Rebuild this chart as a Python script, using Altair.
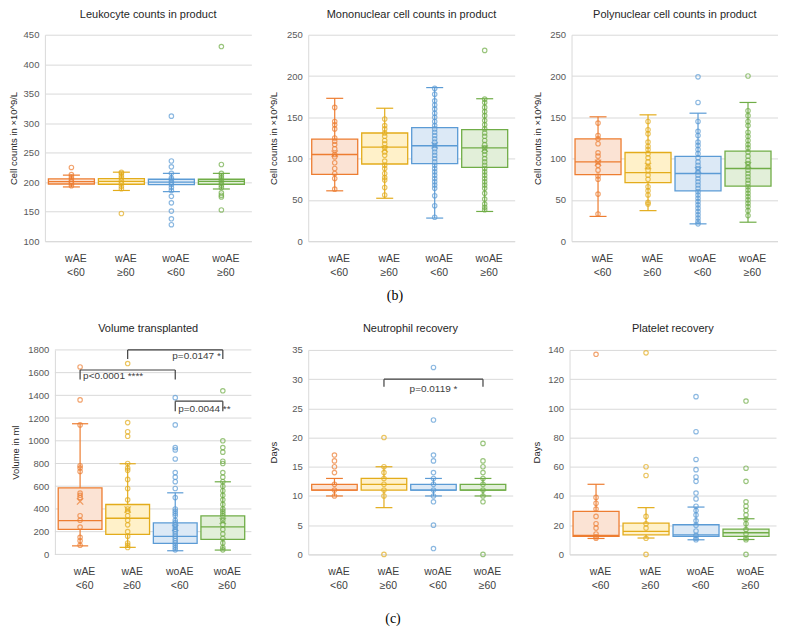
import altair as alt
import pandas as pd

FONT = "Liberation Sans"
GROUPS = ["wAE|<60", "wAE|≥60", "woAE|<60", "woAE|≥60"]
IDX = [0, 1, 2, 3]
STROKES = ["#ED7D31", "#E3AC1B", "#5B9BD5", "#70AD47"]
FILLS = ["#FBE3D4", "#FFF1C9", "#DCE9F6", "#E2EFD9"]

# ---- Leukocyte counts ----
LEU_Q1 = [197, 196.5, 196, 196.5]
LEU_MED = [201, 201.5, 200, 201.5]
LEU_Q3 = [205.5, 206, 205, 205]
LEU_LO = [192, 186, 184, 188.5]
LEU_HI = [212, 217, 215, 215]
LEU_MEAN = []
LEU_PTS = [
    [225, 213, 209, 205, 201, 198, 194],
    [217, 215, 211, 207, 202, 198, 193, 189, 147],
    [312, 236, 226, 215, 207, 204, 200, 196, 191, 186, 176, 165, 151, 138, 128],
    [430, 230, 215, 211, 207, 203, 199, 195, 191, 182, 178, 175, 153],
]

# ---- Mononuclear ----
MONO_Q1 = [81, 93.5, 94, 89.5]
MONO_MED = [105, 114, 115.6, 113]
MONO_Q3 = [123.6, 131, 137.6, 135]
MONO_LO = [61, 52, 28, 36]
MONO_HI = [173, 161, 186, 172.5]
MONO_MEAN = [106, 111.5, 116, 112]
MONO_PTS = [
    [162, 145, 141, 136, 125, 121, 117, 112, 105, 102, 95, 88, 82, 76, 63],
    [148, 140, 136, 131, 127, 122, 118, 113, 108, 104, 97, 92, 88, 82, 77, 74, 65, 56],
    [185, 178, 170, 165, 160, 155, 150, 145, 140, 136, 132, 128, 124, 120, 116, 112,
     108, 104, 100, 96, 92, 88, 84, 80, 76, 72, 68, 64, 55, 43, 29],
    [231, 172, 168, 162, 157, 152, 146, 141, 136, 131, 127, 122, 117, 113, 109, 105,
     100, 96, 92, 88, 84, 80, 76, 72, 68, 64, 58, 51, 45, 41, 38],
]

# ---- Polynuclear ----
POLY_Q1 = [80.7, 71, 61, 66.7]
POLY_MED = [96, 83, 82, 88]
POLY_Q3 = [124, 107.4, 102.6, 109]
POLY_LO = [30, 37, 21, 23]
POLY_HI = [150.6, 153, 155, 168]
POLY_MEAN = [95, 91, 86, 92]
POLY_PTS = [
    [143, 128, 124, 118, 107, 103, 96, 92, 86, 79, 75, 57, 33],
    [145, 135, 130, 120, 115, 111, 106, 101, 96, 90, 86, 80, 75, 66, 61, 56, 47, 45],
    [199, 168, 145, 133, 128, 120, 116, 111, 106, 101, 96, 92, 88, 84, 80, 76, 72, 68,
     64, 60, 56, 52, 48, 44, 40, 36, 32, 28, 24, 21],
    [200, 158, 152, 145, 140, 132, 127, 122, 117, 113, 108, 103, 98, 94, 90, 86, 82, 78,
     74, 70, 66, 62, 58, 54, 50, 46, 42, 37, 31],
]

# ---- Volume transplanted ----
VOL_Q1 = [221, 177, 97, 133]
VOL_MED = [298, 318, 159, 242]
VOL_Q3 = [586, 439, 277, 339]
VOL_LO = [75, 62, 32, 38]
VOL_HI = [1150, 798, 542, 639]
VOL_MEAN = [466, 395, 233, 295]
VOL_PTS = [
    [1650, 1360, 1140, 780, 760, 730, 540, 520, 500, 340, 300, 240, 150, 120, 80],
    [1680, 1160, 1080, 1040, 800, 760, 740, 660, 580, 480, 400, 380, 340, 300, 260, 200,
     160, 100, 80, 60],
    [1380, 1140, 940, 920, 840, 720, 680, 640, 580, 500, 400, 380, 360, 340, 300, 280,
     260, 240, 220, 200, 180, 160, 140, 120, 100, 80, 60, 40],
    [1440, 1000, 940, 900, 820, 800, 720, 680, 640, 600, 560, 520, 480, 440, 400, 380,
     360, 340, 300, 260, 220, 180, 140, 100, 60, 40],
]
VOL_BR_X1 = [1, 0, 2]
VOL_BR_X2 = [3, 2, 3]
VOL_BR_TOP = [1800, 1623, 1349]
VOL_BR_LEG = [1720, 1540, 1260]
VOL_TXT = ["p=0.0147 *", "p<0.0001 ****", "p=0.0044 **"]
VOL_TXT_X = [3, 0, 2]
VOL_TXT_Y = [1742, 1572, 1284]
VOL_TXT_ALIGN = ["right", "left", "left"]

# ---- Neutrophil recovery ----
NEU_Q1 = [11, 11, 11, 11]
NEU_MED = [11, 12, 11, 11]
NEU_Q3 = [12, 13, 12, 12]
NEU_LO = [10, 8, 10, 10]
NEU_HI = [13, 15, 13, 13]
NEU_MEAN = []
NEU_PTS = [
    [17, 16, 15, 14, 12, 11, 10],
    [20, 15, 14, 13, 12, 11, 10, 0],
    [32, 23, 17, 16, 14, 13, 12, 11, 10, 9, 5, 1],
    [19, 16, 15, 14, 13, 12, 11, 10, 9, 0],
]
NEU_BR_X1 = [1]
NEU_BR_X2 = [3]
NEU_BR_TOP = [30]
NEU_BR_LEG = [28.7]
NEU_TXT = ["p=0.0119 *"]
NEU_TXT_X = [2]
NEU_TXT_Y = [28.3]
NEU_TXT_ALIGN = ["center"]

# ---- Platelet recovery ----
PLT_Q1 = [12.3, 13.4, 12.3, 12.3]
PLT_MED = [13, 15.7, 13.4, 14.8]
PLT_Q3 = [29.4, 21.4, 20.3, 17.3]
PLT_LO = [10.9, 11.2, 10, 10.2]
PLT_HI = [48, 32, 32.4, 24.4]
PLT_MEAN = []
PLT_PTS = [
    [137, 39, 35, 31, 26, 21, 18, 14, 12, 11],
    [138, 60, 54, 26, 21, 18, 11, 0],
    [108, 84, 65, 58, 53, 50, 42, 38, 33, 30, 27, 23, 20, 16, 13, 11, 10],
    [105, 59, 50, 36, 33, 30, 27, 24, 21, 17, 14, 11, 10, 0],
]

LABEL_EXPR = "split(" + "[" + ",".join("'" + g + "'" for g in GROUPS) + "][datum.value], '|')"
XSHAPE = "M-1,-1L1,1M-1,1L1,-1"
GRID = "#D9D9D9"


def make_panel(title, ytitle, ydom, ystep, q1, med, q3, lo, hi, mean, pts, w, h, ext,
               brackets=None, texts=None, caption=None, inset=0, toff=10):
    unit = (w - inset) / 4.13
    xs = alt.Scale(domain=[-0.53 - inset / unit, 3.6], nice=False, zero=False)
    ys = alt.Scale(domain=ydom, nice=False, zero=False)
    ticks = list(range(ydom[0], ydom[1] + 1, ystep))
    xaxis = alt.Axis(values=IDX, labelExpr=LABEL_EXPR, title=None, grid=False, ticks=False,
                     domain=(inset == 0), domainColor=GRID, labelPadding=12,
                     labelLineHeight=14.4, labelOffset=4,
                     labelFontSize=10.5, labelColor="#404040", labelFont=FONT)
    yargs = dict(values=ticks, title=ytitle, format="d",
                 grid=(inset == 0), gridColor=GRID, domainColor=GRID, ticks=False,
                 labelPadding=6, minExtent=ext, maxExtent=ext, titlePadding=4,
                 labelFontSize=9.5, labelColor="#595959", labelFont=FONT,
                 titleFontSize=9.5, titleFontWeight="normal", titleColor="#262626",
                 titleFont=FONT)
    if inset:
        yargs["offset"] = -inset
    yaxis = alt.Axis(**yargs)

    def X(f):
        return alt.X(f, type="quantitative", scale=xs, axis=xaxis)

    def Y(f):
        return alt.Y(f, type="quantitative", scale=ys, axis=yaxis)

    fill = alt.Fill("g:N", scale=alt.Scale(domain=GROUPS, range=FILLS), legend=None)
    stroke = alt.Stroke("g:N", scale=alt.Scale(domain=GROUPS, range=STROKES), legend=None)

    stats = pd.DataFrame({"i": IDX, "g": GROUPS, "q1": q1, "med": med, "q3": q3,
                          "lo": lo, "hi": hi})
    base = alt.Chart(stats).transform_calculate(
        xl="datum.i - 0.46", xr="datum.i + 0.46", cl="datum.i - 0.17", cr="datum.i + 0.17")

    layers = []
    if inset:
        layers.append(alt.Chart(pd.DataFrame({"v": ticks})).mark_rule(
            color=GRID, strokeWidth=1).encode(
            x=alt.value(inset), x2=alt.value(w), y=Y("v")))

    box = base.mark_rect(strokeWidth=1.3).encode(
        x=X("xl"), x2="xr:Q", y=Y("q1"), y2="q3:Q", fill=fill, stroke=stroke)
    wh_up = base.mark_rule(strokeWidth=1.2).encode(x=X("i"), y=Y("q3"), y2="hi:Q", stroke=stroke)
    wh_dn = base.mark_rule(strokeWidth=1.2).encode(x=X("i"), y=Y("lo"), y2="q1:Q", stroke=stroke)
    cap_up = base.mark_rule(strokeWidth=1.2).encode(x=X("cl"), x2="cr:Q", y=Y("hi"), stroke=stroke)
    cap_dn = base.mark_rule(strokeWidth=1.2).encode(x=X("cl"), x2="cr:Q", y=Y("lo"), stroke=stroke)
    median = base.mark_rule(strokeWidth=1.3).encode(x=X("xl"), x2="xr:Q", y=Y("med"), stroke=stroke)

    rows = []
    for i, vals in enumerate(pts):
        for v in vals:
            rows.append({"i": i, "g": GROUPS[i], "v": v})
    points = alt.Chart(pd.DataFrame(rows)).mark_point(
        shape="circle", filled=False, size=20, strokeWidth=1.15).encode(
        x=X("i"), y=Y("v"), stroke=stroke)

    layers += [box, wh_up, wh_dn, cap_up, cap_dn, median, points]

    if mean:
        mdf = pd.DataFrame({"i": IDX, "g": GROUPS, "m": mean})
        layers.append(alt.Chart(mdf).mark_point(
            shape=XSHAPE, filled=False, size=40, strokeWidth=1.3).encode(
            x=X("i"), y=Y("m"), stroke=stroke))

    if brackets:
        bx1, bx2, btop, bleg = brackets
        bdf = pd.DataFrame({"x1": bx1, "x2": bx2, "top": btop, "leg": bleg})
        bb = alt.Chart(bdf)
        col = "#404040"
        layers.append(bb.mark_rule(color=col, strokeWidth=1.2).encode(
            x=X("x1"), x2="x2:Q", y=Y("top")))
        layers.append(bb.mark_rule(color=col, strokeWidth=1.2).encode(
            x=X("x1"), y=Y("top"), y2="leg:Q"))
        layers.append(bb.mark_rule(color=col, strokeWidth=1.2).encode(
            x=X("x2"), y=Y("top"), y2="leg:Q"))
    if texts:
        tt, tx, ty, ta = texts
        tdf = pd.DataFrame({"t": tt, "x": tx, "y": ty, "a": ta})
        for al, dx in (("left", 3), ("right", -2), ("center", 0)):
            sub = tdf[tdf["a"] == al]
            if len(sub):
                layers.append(alt.Chart(sub).mark_text(
                    align=al, baseline="middle", dx=dx, fontSize=10, font=FONT,
                    color="#404040").encode(x=X("x"), y=Y("y"), text="t:N"))
    if caption:
        ctext, cx, cy = caption
        layers.append(alt.Chart(pd.DataFrame({"t": [ctext]})).mark_text(
            font="Liberation Serif", fontSize=14, color="#000000", baseline="middle").encode(
            x=alt.value(cx), y=alt.value(cy), text="t:N"))

    return alt.layer(*layers).properties(
        width=w, height=h,
        title=alt.TitleParams(title, fontSize=11, font=FONT, fontWeight="normal",
                              color="#262626", offset=toff))


YT = "Cell counts in ×10^9/L"
p1 = make_panel("Leukocyte counts in product", YT, [100, 450], 50, LEU_Q1, LEU_MED, LEU_Q3,
                LEU_LO, LEU_HI, LEU_MEAN, LEU_PTS, 207, 207, 22.5)
p2 = make_panel("Mononuclear cell counts in product", YT, [0, 250], 50, MONO_Q1, MONO_MED,
                MONO_Q3, MONO_LO, MONO_HI, MONO_MEAN, MONO_PTS, 207, 207, 25.5,
                caption=("(b)", 87, 262))
p3 = make_panel("Polynuclear cell counts in product", YT, [0, 250], 50, POLY_Q1, POLY_MED,
                POLY_Q3, POLY_LO, POLY_HI, POLY_MEAN, POLY_PTS, 207, 207, 25.5)
p4 = make_panel("Volume transplanted", "Volume in ml", [0, 1800], 200, VOL_Q1, VOL_MED, VOL_Q3,
                VOL_LO, VOL_HI, VOL_MEAN, VOL_PTS, 207, 205, 30.5,
                brackets=(VOL_BR_X1, VOL_BR_X2, VOL_BR_TOP, VOL_BR_LEG),
                texts=(VOL_TXT, VOL_TXT_X, VOL_TXT_Y, VOL_TXT_ALIGN), inset=10, toff=11)
p5 = make_panel("Neutrophil recovery", "Days", [0, 35], 5, NEU_Q1, NEU_MED, NEU_Q3, NEU_LO,
                NEU_HI, NEU_MEAN, NEU_PTS, 205, 205, 26,
                brackets=(NEU_BR_X1, NEU_BR_X2, NEU_BR_TOP, NEU_BR_LEG),
                texts=(NEU_TXT, NEU_TXT_X, NEU_TXT_Y, NEU_TXT_ALIGN),
                caption=("(c)", 85, 65 + 205), toff=11)
p6 = make_panel("Platelet recovery", "Days", [0, 140], 20, PLT_Q1, PLT_MED, PLT_Q3, PLT_LO,
                PLT_HI, PLT_MEAN, PLT_PTS, 207, 205, 24.5, toff=11)

row1 = alt.hconcat(p1, p2, p3, spacing=57, bounds="flush")
row2 = alt.hconcat(p4, p5, p6, spacing=57, bounds="flush")
chart = alt.concat(row1, row2, columns=1, align="none", bounds="full", spacing=20).properties(
    padding=0, background="white"
).configure_view(stroke=None)

chart.save("out.html", embed_options={"renderer": "svg", "actions": False})
